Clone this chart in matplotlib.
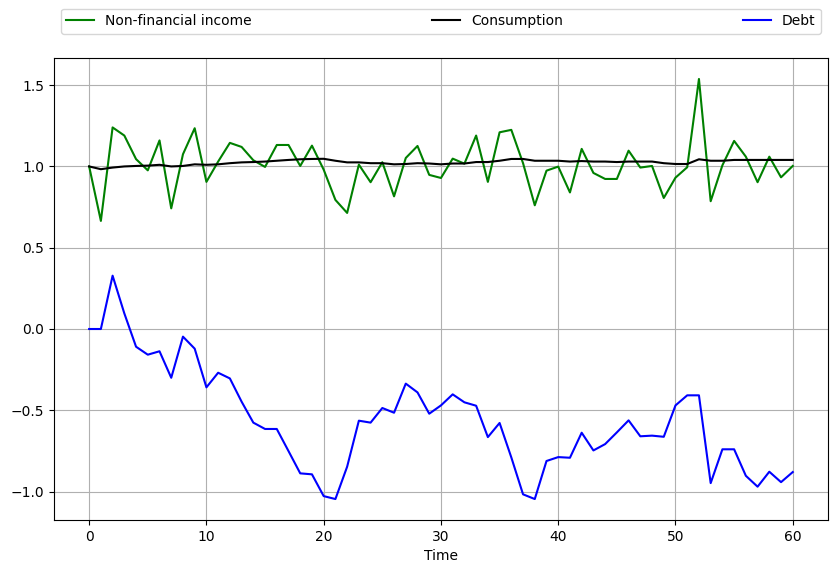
import matplotlib
matplotlib.use("Agg")
import matplotlib.pyplot as plt
import numpy as np

time = np.arange(61)

income = [1.00, 0.665, 1.24, 1.19, 1.045, 0.976, 1.16, 0.742, 1.075, 1.235,
          0.905, 1.03, 1.145, 1.12, 1.038, 0.997, 1.132, 1.132, 1.003, 1.128,
          0.98, 0.794, 0.714, 1.011, 0.903, 1.026, 0.816, 1.052, 1.126, 0.948,
          0.929, 1.048, 1.017, 1.19, 0.905, 1.21, 1.225, 1.02, 0.761, 0.974,
          0.999, 0.84, 1.108, 0.96, 0.923, 0.923, 1.097, 0.993, 1.003, 0.806,
          0.931, 0.995, 1.538, 0.786, 1.007, 1.157, 1.06, 0.903, 1.06, 0.933,
          1.003]

consumption = [1.00, 0.983, 0.993, 1.00, 1.003, 1.005, 1.01, 1.00, 1.003, 1.013,
               1.01, 1.013, 1.02, 1.025, 1.027, 1.03, 1.035, 1.04, 1.044, 1.046,
               1.047, 1.035, 1.025, 1.025, 1.02, 1.02, 1.013, 1.015, 1.02, 1.018,
               1.013, 1.018, 1.018, 1.027, 1.027, 1.035, 1.046, 1.046, 1.035, 1.035,
               1.035, 1.03, 1.033, 1.03, 1.03, 1.027, 1.03, 1.03, 1.03, 1.02,
               1.015, 1.015, 1.044, 1.035, 1.035, 1.04, 1.04, 1.04, 1.04, 1.04,
               1.04]

debt = [0.0, 0.0, 0.328, 0.096, -0.109, -0.158, -0.137, -0.30, -0.047, -0.121,
        -0.359, -0.269, -0.304, -0.447, -0.576, -0.615, -0.615, -0.751, -0.888, -0.894,
        -1.028, -1.046, -0.847, -0.564, -0.576, -0.486, -0.515, -0.336, -0.39, -0.521,
        -0.47, -0.402, -0.451, -0.472, -0.665, -0.578, -0.79, -1.017, -1.046, -0.812,
        -0.788, -0.792, -0.638, -0.747, -0.708, -0.636, -0.562, -0.66, -0.656, -0.663,
        -0.47, -0.408, -0.408, -0.948, -0.74, -0.74, -0.903, -0.97, -0.878, -0.942,
        -0.88]

fig = plt.figure(figsize=(8.38, 5.74), dpi=100)
ax = fig.add_axes([0.0644, 0.094, 0.9236, 0.805])

ax.plot(time, income, color="green", label="Non-financial income")
ax.plot(time, consumption, color="black", label="Consumption")
ax.plot(time, debt, color="blue", label="Debt")

ax.grid(True)
ax.set_xlabel("Time")
ax.legend(bbox_to_anchor=(0.0, 1.02, 1.0, 0.102), loc="upper left", ncol=3,
          mode="expand")

fig.savefig("out.png", dpi=100)
